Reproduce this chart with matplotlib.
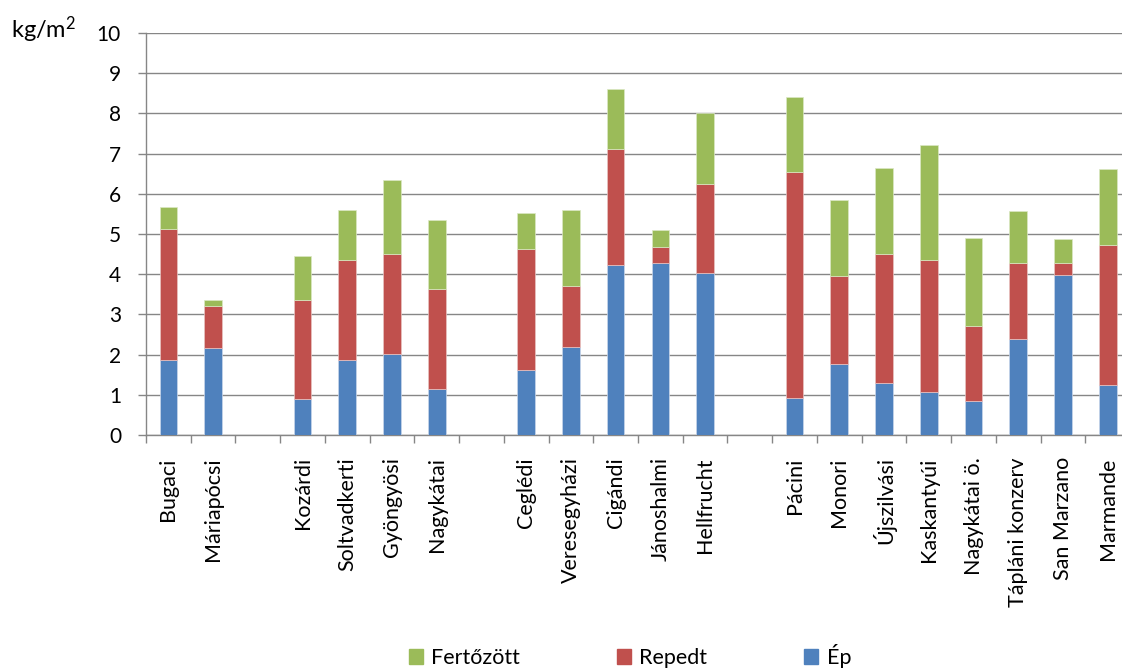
import numpy as np
import matplotlib
matplotlib.use("Agg")
from matplotlib import pyplot as plt
from matplotlib.patches import Patch

plt.rcParams['font.family'] = ['Lato', 'DejaVu Sans']
plt.rcParams['mathtext.default'] = 'regular'

# fajták csoportonként (a csoportok között üres hely van)
csoportok = [
    ["Bugaci", "Máriapócsi"],
    ["Kozárdi", "Soltvadkerti", "Gyöngyösi", "Nagykátai"],
    ["Ceglédi", "Veresegyházi", "Cigándi", "Jánoshalmi", "Hellfrucht"],
    ["Pácini", "Monori", "Újszilvási", "Kaskantyúi", "Nagykátai ö.",
     "Tápláni konzerv", "San Marzano", "Marmande"],
]

ep = [1.86, 2.16,
      0.90, 1.86, 2.02, 1.14,
      1.61, 2.19, 4.23, 4.27, 4.02,
      0.92, 1.76, 1.30, 1.06, 0.85, 2.40, 3.97, 1.25]
repedt = [3.27, 1.06,
          2.47, 2.50, 2.49, 2.48,
          3.02, 1.52, 2.89, 0.40, 2.23,
          5.61, 2.20, 3.21, 3.30, 1.87, 1.87, 0.30, 3.48]
fertozott = [0.54, 0.14,
             1.08, 1.24, 1.83, 1.72,
             0.89, 1.89, 1.48, 0.43, 1.77,
             1.87, 1.88, 2.12, 2.85, 2.18, 1.30, 0.61, 1.89]

c_ep = "#4F81BD"
c_rep = "#C0504D"
c_fert = "#9BBB59"
racs = "#868686"

# helyek: minden csoport után egy üres hely
nevek = []
pos = []
k = 0
for cs in csoportok:
    for n in cs:
        nevek.append(n)
        pos.append(k + 0.5)
        k += 1
    k += 1
n_slot = k - 1

ep = np.array(ep)
repedt = np.array(repedt)
fertozott = np.array(fertozott)

fig = plt.figure(figsize=(11.22, 6.69), dpi=100)
ax = fig.add_axes([146 / 1122, 1 - 435 / 669, (n_slot * 44.73) / 1122, 402 / 669])

w = 0.395
ax.bar(pos, ep, w, color=c_ep, edgecolor="#c9d6ea", linewidth=0.5, zorder=3)
ax.bar(pos, repedt, w, bottom=ep, color=c_rep, edgecolor="#e8c4c3", linewidth=0.5, zorder=3)
ax.bar(pos, fertozott, w, bottom=ep + repedt, color=c_fert, edgecolor="#dbe8c4", linewidth=0.5, zorder=3)

ax.set_xlim(0, n_slot)
ax.set_ylim(0, 10)
ax.set_yticks(range(0, 11))
ax.yaxis.grid(True, color=racs, linewidth=1.0, zorder=0)
ax.set_axisbelow(True)

ax.set_xticks(pos)
ax.set_xticklabels(nevek, rotation=90, fontsize=15.5, va="top")
ax.set_xticks(np.arange(0, n_slot + 1), minor=True)
ax.tick_params(axis="x", which="major", length=0, pad=16)
ax.tick_params(axis="x", which="minor", length=6, width=1.0, color=racs, direction="out")
ax.tick_params(axis="y", length=6, width=1.0, color=racs, direction="out", labelsize=15, pad=12)

for s in ["top", "right"]:
    ax.spines[s].set_visible(False)
for s in ["left", "bottom"]:
    ax.spines[s].set_color(racs)
    ax.spines[s].set_linewidth(1.0)

fig.text(11 / 1122, 1 - 15 / 669, "kg/m$^{2}$", fontsize=17, va="top", ha="left")

jelek = [Patch(color=c_fert, label="Fertőzött"),
         Patch(color=c_rep, label="Repedt"),
         Patch(color=c_ep, label="Ép")]
fig.legend(handles=jelek, loc="center", bbox_to_anchor=(630 / 1122, 1 - 656 / 669),
           ncol=3, frameon=False, fontsize=15.5, handlelength=0.65, handleheight=0.65,
           handletextpad=0.4, columnspacing=4.5)

fig.savefig("out.png", dpi=100)
